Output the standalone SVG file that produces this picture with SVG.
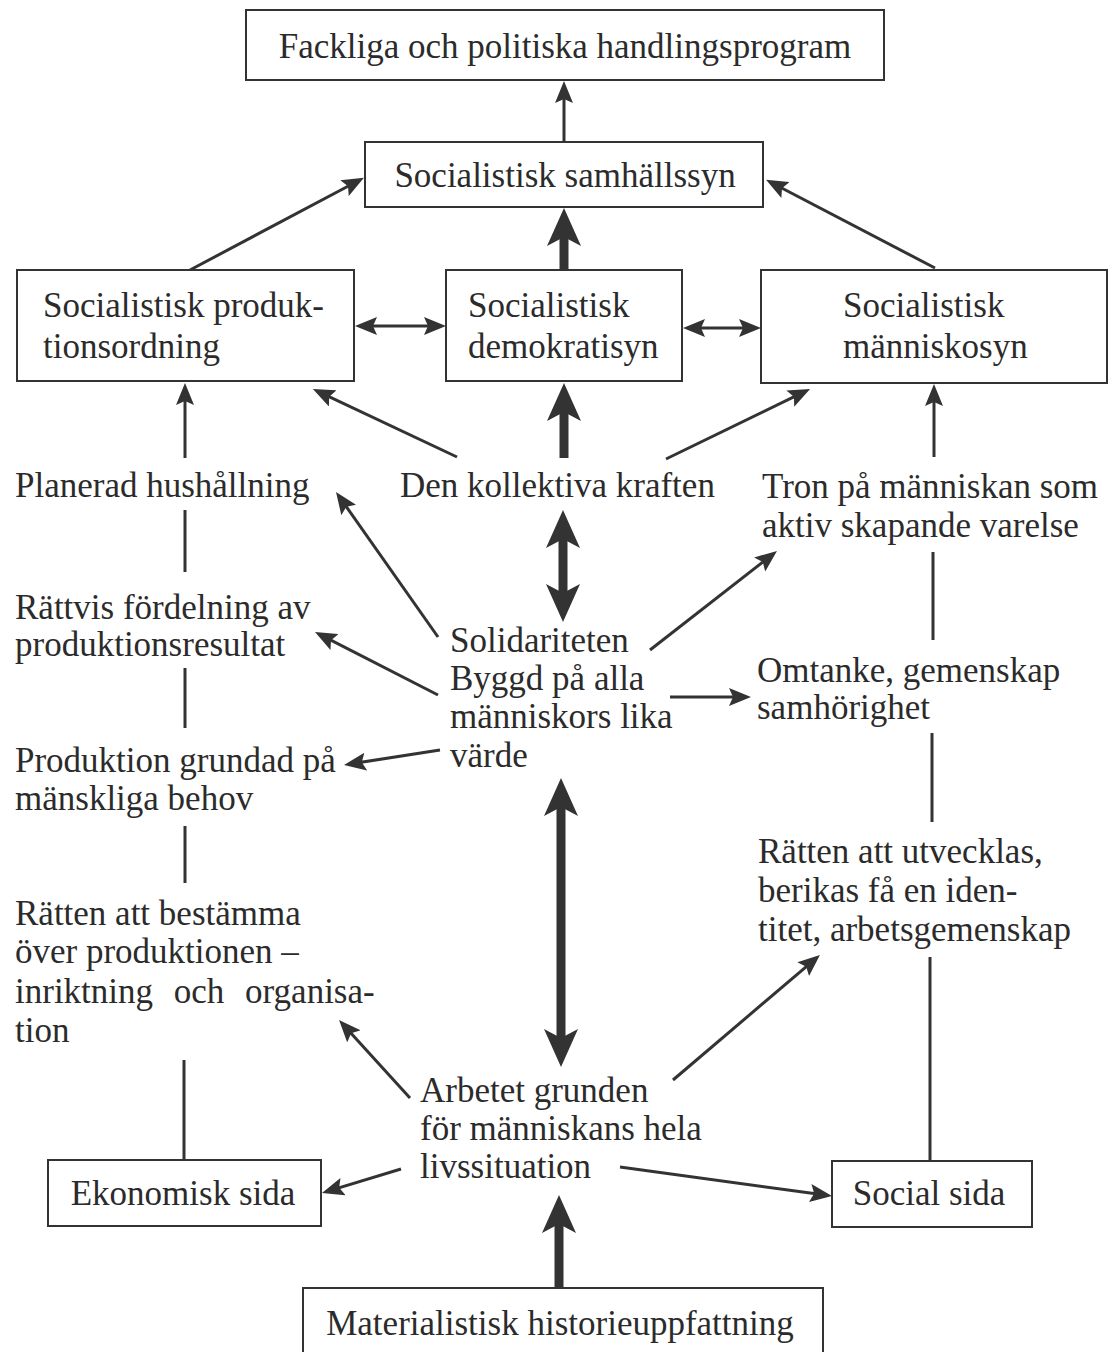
<svg xmlns="http://www.w3.org/2000/svg" width="1113" height="1352" viewBox="0 0 1113 1352">
<style>
.box{fill:#fff;stroke:#333;stroke-width:2}
.t{font-family:"Liberation Serif","Times New Roman",serif;font-size:35px;fill:#2b2b2b}
.c{text-anchor:middle}
.ln{stroke:#333;stroke-width:3;fill:none}
.ar{stroke:#333;stroke-width:3;fill:none;marker-end:url(#h)}
.dar{stroke:#333;stroke-width:3;fill:none;marker-start:url(#h);marker-end:url(#h)}
.tk{stroke:#333;stroke-width:9;fill:none;marker-end:url(#H)}
.dtk{stroke:#333;stroke-width:9;fill:none;marker-start:url(#H);marker-end:url(#H)}
</style>
<defs>
<marker id="h" viewBox="0 0 22 18" refX="13" refY="9" markerWidth="22" markerHeight="18" markerUnits="userSpaceOnUse" orient="auto-start-reverse">
<path d="M0,0 L22,9 L0,18 L4,9 Z" fill="#333"/>
</marker>
<marker id="H" viewBox="0 0 38 34" refX="14" refY="17" markerWidth="38" markerHeight="34" markerUnits="userSpaceOnUse" orient="auto-start-reverse">
<path d="M0,0 L38,17 L0,34 L9,17 Z" fill="#333"/>
</marker>
</defs>
<rect width="1113" height="1352" fill="#fff"/>

<g id="connectors">
<line class="ar" x1="564" y1="142" x2="564" y2="90"/>
<line class="ar" x1="190" y1="270" x2="356" y2="182"/>
<line class="ar" x1="935" y1="268" x2="774" y2="184"/>
<line class="tk" x1="564" y1="270" x2="564" y2="232"/>
<line class="dar" x1="364" y1="326" x2="437" y2="326"/>
<line class="dar" x1="692" y1="328" x2="752" y2="328"/>
<line class="ar" x1="185" y1="458" x2="185" y2="392"/>
<line class="ar" x1="457" y1="457" x2="321" y2="392.8"/>
<line class="tk" x1="564" y1="458" x2="564" y2="407"/>
<line class="ar" x1="666" y1="459" x2="802" y2="392.9"/>
<line class="ar" x1="934" y1="457" x2="934" y2="393"/>
<line class="dtk" x1="563" y1="534" x2="563" y2="598"/>
<line class="ar" x1="438" y1="637" x2="341.2" y2="499.4"/>
<line class="ar" x1="438" y1="695" x2="323" y2="636.1"/>
<line class="ar" x1="440" y1="750" x2="352.9" y2="763.6"/>
<line class="ar" x1="650" y1="650" x2="769.9" y2="556.5"/>
<line class="ar" x1="670" y1="697" x2="742" y2="697"/>
<line class="dtk" x1="561" y1="802" x2="561" y2="1043"/>
<line class="ar" x1="410" y1="1098" x2="345.1" y2="1026.7"/>
<line class="ar" x1="673" y1="1080" x2="813.1" y2="960.8"/>
<line class="ar" x1="401" y1="1169" x2="330.6" y2="1190.4"/>
<line class="ar" x1="620" y1="1167" x2="823.1" y2="1194.8"/>
<line class="tk" x1="559" y1="1288" x2="559" y2="1219"/>
<line class="ln" x1="185" y1="510" x2="185" y2="572"/>
<line class="ln" x1="185" y1="668" x2="185" y2="728"/>
<line class="ln" x1="185" y1="826" x2="185" y2="883"/>
<line class="ln" x1="184" y1="1060" x2="184" y2="1160"/>
<line class="ln" x1="933" y1="552" x2="933" y2="640"/>
<line class="ln" x1="932" y1="733" x2="932" y2="822"/>
<line class="ln" x1="930" y1="957" x2="930" y2="1161"/>
</g>

<g id="n-fackliga">
<rect class="box" x="246" y="10" width="638" height="70"/>
<text class="t c" x="565" y="58">Fackliga och politiska handlingsprogram</text>
</g>
<g id="n-samhallssyn">
<rect class="box" x="365" y="142" width="398" height="65"/>
<text class="t c" x="565" y="187">Socialistisk samhällssyn</text>
</g>
<g id="n-produktion">
<rect class="box" x="17" y="270" width="337" height="111"/>
<text class="t" x="43" y="317">Socialistisk produk-</text>
<text class="t" x="43" y="358">tionsordning</text>
</g>
<g id="n-demokrati">
<rect class="box" x="446" y="270" width="236" height="111"/>
<text class="t" x="468" y="317">Socialistisk</text>
<text class="t" x="468" y="358">demokratisyn</text>
</g>
<g id="n-manniskosyn">
<rect class="box" x="761" y="270" width="346" height="113"/>
<text class="t" x="843" y="317">Socialistisk</text>
<text class="t" x="843" y="358">människosyn</text>
</g>
<g id="n-planerad">
<text class="t" x="15" y="497">Planerad hushållning</text>
</g>
<g id="n-kollektiva">
<text class="t" x="400" y="497">Den kollektiva kraften</text>
</g>
<g id="n-tron">
<text class="t" x="762" y="498">Tron på människan som</text>
<text class="t" x="762" y="537">aktiv skapande varelse</text>
</g>
<g id="n-rattvis">
<text class="t" x="15" y="619">Rättvis fördelning av</text>
<text class="t" x="15" y="656">produktionsresultat</text>
</g>
<g id="n-solidariteten">
<text class="t" x="450" y="652">Solidariteten</text>
<text class="t" x="450" y="690">Byggd på alla</text>
<text class="t" x="450" y="728">människors lika</text>
<text class="t" x="450" y="767">värde</text>
</g>
<g id="n-omtanke">
<text class="t" x="757" y="682">Omtanke, gemenskap</text>
<text class="t" x="757" y="719">samhörighet</text>
</g>
<g id="n-produktion-behov">
<text class="t" x="15" y="772">Produktion grundad på</text>
<text class="t" x="15" y="810">mänskliga behov</text>
</g>
<g id="n-utvecklas">
<text class="t" x="758" y="863">Rätten att utvecklas,</text>
<text class="t" x="758" y="902">berikas få en iden-</text>
<text class="t" x="758" y="941">titet, arbetsgemenskap</text>
</g>
<g id="n-bestamma">
<text class="t" x="15" y="925">Rätten att bestämma</text>
<text class="t" x="15" y="963">över produktionen –</text>
<text class="t" x="15" y="1003" word-spacing="12">inriktning och organisa-</text>
<text class="t" x="15" y="1042">tion</text>
</g>
<g id="n-arbetet">
<text class="t" x="420" y="1102">Arbetet grunden</text>
<text class="t" x="420" y="1140">för människans hela</text>
<text class="t" x="420" y="1178">livssituation</text>
</g>
<g id="n-ekonomisk">
<rect class="box" x="48" y="1160" width="273" height="66"/>
<text class="t c" x="183" y="1205">Ekonomisk sida</text>
</g>
<g id="n-social">
<rect class="box" x="832" y="1161" width="200" height="66"/>
<text class="t c" x="929" y="1205">Social sida</text>
</g>
<g id="n-materialistisk">
<rect class="box" x="303" y="1288" width="520" height="90"/>
<text class="t c" x="560" y="1335">Materialistisk historieuppfattning</text>
</g>
</svg>
